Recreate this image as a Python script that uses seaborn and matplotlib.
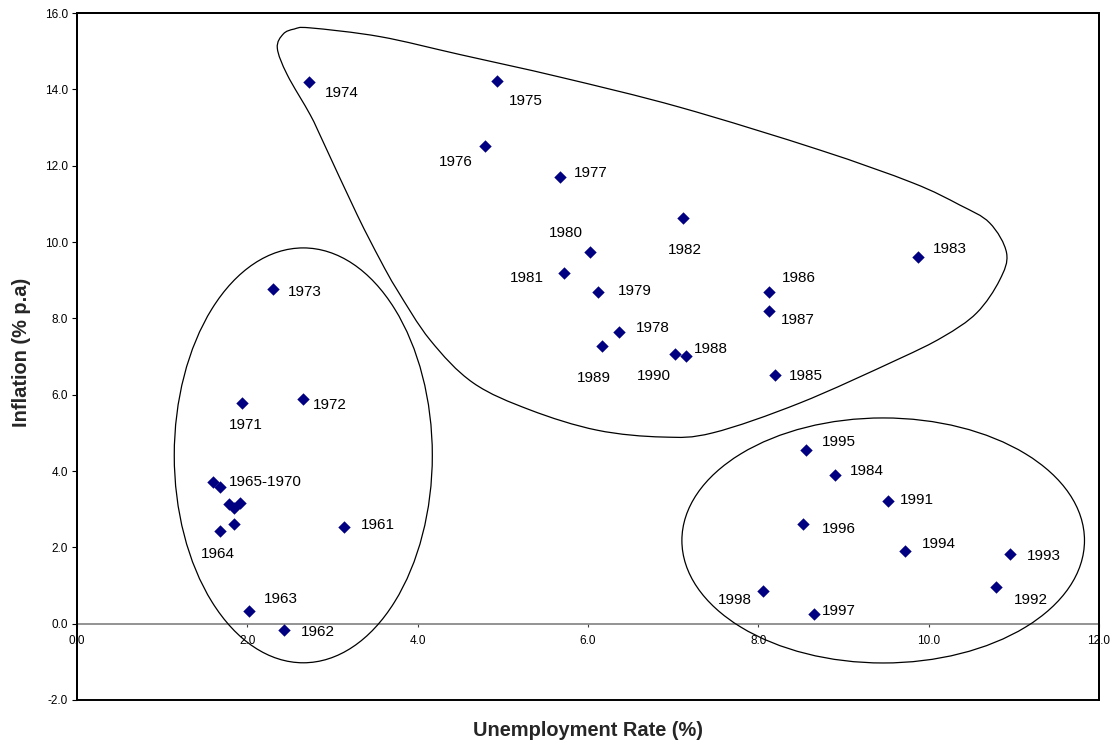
import numpy as np
import pandas as pd
import matplotlib
matplotlib.use("Agg")
import matplotlib.pyplot as plt
import seaborn as sns
from matplotlib.patches import Ellipse, PathPatch, Rectangle
from matplotlib.path import Path

# ---------------- data ----------------
years = ["1961", "1962", "1963", "1964",
         "1965", "1966", "1967", "1968", "1969", "1970",
         "1971", "1972", "1973", "1974", "1975", "1976", "1977", "1978", "1979",
         "1980", "1981", "1982", "1983", "1984", "1985", "1986", "1987", "1988",
         "1989", "1990", "1991", "1992", "1993", "1994", "1995", "1996", "1997", "1998"]
labels = ["1961", "1962", "1963", "1964",
          "1965-1970", "", "", "", "", "",
          "1971", "1972", "1973", "1974", "1975", "1976", "1977", "1978", "1979",
          "1980", "1981", "1982", "1983", "1984", "1985", "1986", "1987", "1988",
          "1989", "1990", "1991", "1992", "1993", "1994", "1995", "1996", "1997", "1998"]
unemployment = [3.14, 2.43, 2.02, 1.68,
                1.60, 1.68, 1.78, 1.84, 1.91, 1.84,
                1.94, 2.65, 2.30, 2.72, 4.93, 4.79, 5.67, 6.36, 6.12,
                6.02, 5.72, 7.11, 9.88, 8.90, 8.20, 8.13, 8.12, 7.15,
                6.17, 7.02, 9.52, 10.79, 10.96, 9.72, 8.56, 8.53, 8.65, 8.06]
inflation = [2.54, -0.17, 0.34, 2.44,
             3.72, 3.59, 3.13, 3.02, 3.15, 2.60,
             5.79, 5.89, 8.77, 14.19, 14.22, 12.51, 11.70, 7.65, 8.68,
             9.73, 9.18, 10.64, 9.61, 3.89, 6.51, 8.68, 8.19, 7.01,
             7.28, 7.06, 3.21, 0.97, 1.82, 1.90, 4.54, 2.61, 0.25, 0.85]

x_ticks = [0, 2, 4, 6, 8, 10, 12]
y_ticks = [-2, 0, 2, 4, 6, 8, 10, 12, 14, 16]
x_title = "Unemployment Rate (%)"
y_title = "Inflation (% p.a)"

# label placement (offset in pixels, horizontal alignment)
label_offsets = {
    "1961": (16, 2, "left"), "1962": (17, -2, "left"), "1963": (15, 12, "left"),
    "1964": (-2, -23, "center"), "1965-1970": (16, 0, "left"),
    "1971": (4, -22, "center"), "1972": (10, -6, "left"), "1973": (15, -3, "left"),
    "1974": (16, -11, "left"), "1975": (12, -20, "left"), "1976": (-12, -16, "right"),
    "1977": (14, 4, "left"), "1978": (17, 4, "left"), "1979": (20, 1, "left"),
    "1980": (-24, 19, "center"), "1981": (-20, -5, "right"), "1982": (2, -32, "center"),
    "1983": (14, 8, "left"), "1984": (15, 4, "left"), "1985": (14, -1, "left"),
    "1986": (12, 14, "left"), "1987": (12, -9, "left"), "1988": (8, 7, "left"),
    "1989": (-9, -32, "center"), "1990": (-21, -22, "center"), "1991": (12, 1, "left"),
    "1992": (18, -13, "left"), "1993": (16, -2, "left"), "1994": (17, 7, "left"),
    "1995": (16, 8, "left"), "1996": (18, -5, "left"), "1997": (8, 3, "left"),
    "1998": (-12, -9, "right"),
}

# hand-drawn grouping outlines (annotation shapes, data coords)
blob_x = [2.739, 3.560, 4.499, 5.672, 7.079, 8.721, 9.812, 10.364, 10.716, 10.915,
          10.833, 10.563, 10.164, 9.624, 8.486, 7.466, 6.879, 6.106, 5.320, 4.651,
          4.147, 3.760, 3.560, 3.290, 2.891, 2.739, 2.469, 2.352, 2.422, 2.551]
blob_y = [15.61, 15.38, 14.91, 14.32, 13.53, 12.41, 11.55, 10.97, 10.50, 9.71,
          9.00, 8.14, 7.51, 6.91, 5.78, 5.00, 4.89, 5.07, 5.60, 6.31,
          7.43, 8.74, 9.53, 10.71, 12.62, 13.33, 14.38, 15.08, 15.45, 15.58]

df = pd.DataFrame({"Unemployment": unemployment, "Inflation": inflation,
                   "Year": years, "Label": labels})

# ---------------- style ----------------
sns.set_style("white")
plt.rcParams["font.family"] = ["Liberation Sans", "DejaVu Sans"]

fig = plt.figure(figsize=(11.19, 7.46), dpi=100)
ax = fig.add_axes([77 / 1119, 46 / 746, 1022 / 1119, 687 / 746])

sns.scatterplot(data=df, x="Unemployment", y="Inflation", marker="D", s=40,
                color="#000080", edgecolor="#000080", linewidth=0, ax=ax,
                zorder=5, legend=False)

for _, r in df.iterrows():
    if r["Label"]:
        dx, dy, ha = label_offsets[r["Label"]]
        ax.annotate(r["Label"], (r["Unemployment"], r["Inflation"]),
                    xytext=(dx, dy), textcoords="offset pixels",
                    ha=ha, va="center", fontsize=11, color="black", zorder=6)

# outlines
ax.add_patch(Ellipse((2.657, 4.41), 3.03, 10.87, fill=False, ec="black", lw=0.9, zorder=3))
ax.add_patch(Ellipse((9.466, 2.18), 4.727, 6.42, fill=False, ec="black", lw=0.9, zorder=3))

P = np.column_stack([blob_x, blob_y])
n = len(P)
verts = [P[0]]
codes = [Path.MOVETO]
for i in range(n):
    p0, p1, p2, p3 = P[i - 1], P[i], P[(i + 1) % n], P[(i + 2) % n]
    c1 = p1 + (p2 - p0) / 6.0
    c2 = p2 - (p3 - p1) / 6.0
    verts += [c1, c2, p2]
    codes += [Path.CURVE4] * 3
ax.add_patch(PathPatch(Path(verts, codes), fill=False, ec="black", lw=0.9, zorder=3))

# axes
ax.set_xlim(0, 12)
ax.set_ylim(-2, 16)
ax.set_xticks(x_ticks)
ax.set_yticks(y_ticks)
ax.set_xticklabels([f"{v:.1f}" for v in x_ticks])
ax.set_yticklabels([f"{v:.1f}" for v in y_ticks])

ax.spines["bottom"].set_position(("data", 0))
ax.spines["bottom"].set_color("#808080")
ax.spines["bottom"].set_linewidth(1.2)
for s in ["left", "top", "right"]:
    ax.spines[s].set_color("black")
    ax.spines[s].set_linewidth(1.4)
ax.add_patch(Rectangle((0, 0), 1, 1, transform=ax.transAxes, fill=False,
                       ec="black", lw=1.4, clip_on=False, zorder=10))

ax.tick_params(axis="x", direction="out", length=2.5, width=0.8, color="#404040",
               pad=6, labelsize=8.5, labelcolor="black")
ax.tick_params(axis="y", direction="out", length=3.6, width=0.8, color="black",
               pad=3, labelsize=8.5, labelcolor="black")
ax.tick_params(left=True, bottom=True)

ax.set_xlabel("")
ax.set_ylabel("")
fig.text(588 / 1119, 1 - 730 / 746, x_title, ha="center", va="center",
         fontsize=14.4, fontweight="bold")
fig.text(22 / 1119, 1 - 352 / 746, y_title, ha="center", va="center",
         rotation=90, fontsize=14.4, fontweight="bold")

fig.savefig("out.png", dpi=100, facecolor="white")
